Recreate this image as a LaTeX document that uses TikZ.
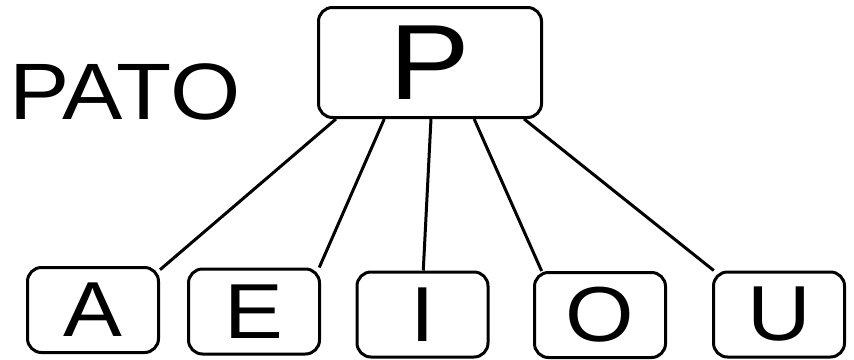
\documentclass[tikz,border=0pt]{standalone}
\usepackage{fontspec}
\setmainfont{Liberation Sans}
\newfontfamily\widesans[FakeStretch=1.13]{Liberation Sans}

\begin{document}
\begin{tikzpicture}[x=1pt,y=-1pt]
        \tikzset{letterbox/.style={draw,line width=3pt,rounded corners=14pt,
                inner sep=0pt,minimum width=131pt,minimum height=85pt,
                font=\widesans\fontsize{78}{78}\selectfont},
            rootbox/.style={letterbox,minimum width=223pt,minimum height=110pt,
                font=\widesans\fontsize{107}{107}\selectfont},
            link/.style={draw,line width=3pt}}
        \useasboundingbox (0,0) rectangle (854,359);
        \node[rootbox] (root) at (430,62.5) {P};
        \node[anchor=base west,inner sep=0pt,font=\widesans\fontsize{80}{80}\selectfont] (word) at (9,119) {PATO};
        \node[letterbox] (a) at (93,310) {A};
        \node[letterbox] (e) at (254,311.5) {E};
        \node[letterbox] (i) at (422.5,314.5) {I};
        \node[letterbox] (o) at (600,315) {O};
        \node[letterbox] (u) at (779,314.5) {U};
        \draw[link] (root.211) -- (a.31);
        \draw[link] (root.231) -- (e.34);
        \draw[link] (root.271) -- (i.89);
        \draw[link] (root.308) -- (o.143);
        \draw[link] (root.329) -- (u.146);
    \end{tikzpicture}
\end{document}
